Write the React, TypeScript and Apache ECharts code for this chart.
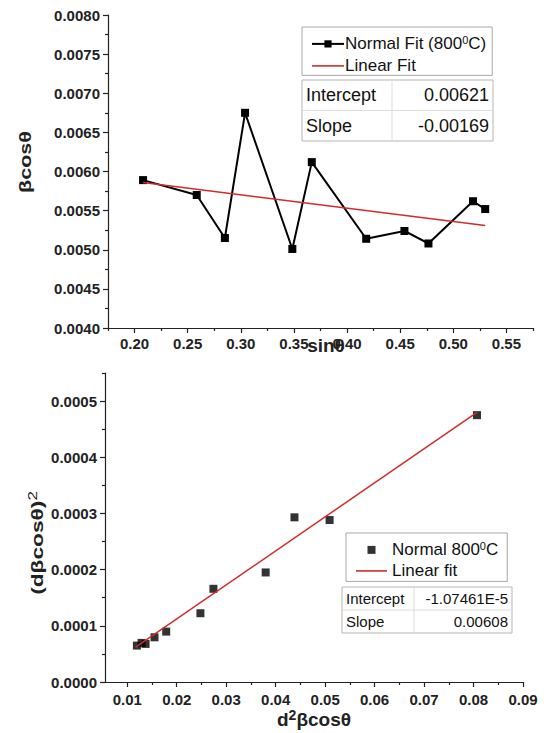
import React, { useEffect, useRef } from "react";
import * as echarts from "echarts";

// ---------- Top chart data (βcosθ vs sinθ) ----------
const topX = [0.208, 0.2585, 0.285, 0.304, 0.3485, 0.3668, 0.418, 0.454, 0.4766, 0.5185, 0.53];
const topY = [0.00589, 0.0057, 0.00515, 0.00675, 0.00501, 0.00612, 0.00514, 0.00524, 0.00508, 0.00562, 0.00552];
const topFitX = [0.208, 0.53];
const topFitY = [0.00586, 0.00531];
const topXMajor = [0.2, 0.25, 0.3, 0.35, 0.4, 0.45, 0.5, 0.55];
const topXMinor = [0.175, 0.225, 0.275, 0.325, 0.375, 0.425, 0.475, 0.525, 0.575];
const topYMajor = [0.004, 0.0045, 0.005, 0.0055, 0.006, 0.0065, 0.007, 0.0075, 0.008];
const topYMinor = [0.00425, 0.00475, 0.00525, 0.00575, 0.00625, 0.00675, 0.00725, 0.00775];
const topTable = [["Intercept", "0.00621"], ["Slope", "-0.00169"]];

// ---------- Bottom chart data ((dβcosθ)² vs d²βcosθ) ----------
const botX = [0.01195, 0.01289, 0.0137, 0.01551, 0.01787, 0.02479, 0.02742, 0.03798, 0.0438, 0.0509, 0.0807];
const botY = [0.0000648, 0.0000696, 0.0000678, 0.0000796, 0.0000897, 0.0001224, 0.0001659, 0.000195, 0.0002931, 0.0002883, 0.000475];
const botFitX = [0.0117, 0.0807];
const botFitY = [0.0000619, 0.00048];
const botXMajor = [0.01, 0.02, 0.03, 0.04, 0.05, 0.06, 0.07, 0.08, 0.09];
const botXMinor = [0.015, 0.025, 0.035, 0.045, 0.055, 0.065, 0.075, 0.085];
const botYMajor = [0, 0.0001, 0.0002, 0.0003, 0.0004, 0.0005];
const botYMinor = [0.00005, 0.00015, 0.00025, 0.00035, 0.00045, 0.00055];
const botTable = [["Intercept", "-1.07461E-5"], ["Slope", "0.00608"]];

const FONT = "Liberation Sans, Arial, sans-serif";
const AXIS_COLOR = "#222";
const RED = "#d12b2b";

const zip = (a: number[], b: number[]) => a.map((v, i) => [v, b[i]]);

function majorAxis(opts: any) {
  const { gridIndex, min, max, ticks, digits, margin, position, name, nameGap, nameTextStyle, nameMoveOverlap } = opts;
  return {
    type: "value",
    gridIndex,
    min,
    max,
    position,
    axisLine: { show: true, onZero: false, lineStyle: { color: AXIS_COLOR, width: 1.2 } },
    axisTick: { show: true, customValues: ticks, length: 5, lineStyle: { color: AXIS_COLOR, width: 1.2 } },
    axisLabel: {
      show: true,
      customValues: ticks,
      margin,
      formatter: (v: number) => v.toFixed(digits),
      color: AXIS_COLOR,
      fontFamily: FONT,
      fontWeight: "bold",
      fontSize: 15,
    },
    splitLine: { show: false },
    name,
    nameLocation: "middle",
    nameGap,
    nameMoveOverlap,
    nameTextStyle,
  };
}

function minorAxis(gridIndex: number, min: number, max: number, ticks: number[], position: string) {
  return {
    type: "value",
    gridIndex,
    min,
    max,
    position,
    axisLine: { show: false, onZero: false },
    axisTick: { show: true, customValues: ticks, length: 3, lineStyle: { color: AXIS_COLOR, width: 1.2 } },
    axisLabel: { show: false },
    splitLine: { show: false },
  };
}

function table(x: number, y: number, w: number, h: number, splitX: number, rows: string[][], fontSize: number) {
  const rowH = h / rows.length;
  const children: any[] = [
    { type: "rect", shape: { x, y, width: w, height: h }, style: { fill: "#fff", stroke: "#b5b5b5", lineWidth: 1 } },
    { type: "line", shape: { x1: splitX, y1: y, x2: splitX, y2: y + h }, style: { stroke: "#dcdcdc", lineWidth: 1 } },
    { type: "line", shape: { x1: x, y1: y + rowH, x2: x + w, y2: y + rowH }, style: { stroke: "#dcdcdc", lineWidth: 1 } },
  ];
  rows.forEach((r, i) => {
    const cy = y + rowH * i + rowH / 2;
    children.push({
      type: "text",
      style: { text: r[0], x: x + 4, y: cy, textVerticalAlign: "middle", textAlign: "left", font: `${fontSize}px ${FONT}`, fill: "#111" },
    });
    children.push({
      type: "text",
      style: { text: r[1], x: x + w - 4, y: cy, textVerticalAlign: "middle", textAlign: "right", font: `${fontSize}px ${FONT}`, fill: "#111" },
    });
  });
  return { type: "group", children };
}

const supRich = (size: number) => ({
  sup: { fontSize: size, fontFamily: FONT, verticalAlign: "bottom", padding: [0, 0, size * 0.8, 0], color: "#111" },
});

export default function App() {
  const ref = useRef<HTMLDivElement>(null);

  useEffect(() => {
    if (!ref.current) return;
    const chart = echarts.init(ref.current, undefined, { renderer: "svg" });

    const legendFormatter = (name: string) => name.replace("⁰", "{sup|0}");

    const option: any = {
      animation: false,
      backgroundColor: "#fff",
      grid: [
        { left: 108, top: 15, width: 425, height: 313 },
        { left: 105, top: 373, width: 418, height: 309 },
      ],
      xAxis: [
        majorAxis({
          gridIndex: 0, min: 0.175, max: 0.575, ticks: topXMajor, digits: 2, margin: 8, position: "bottom",
          name: "sinθ", nameGap: 8, nameMoveOverlap: false,
          nameTextStyle: { fontFamily: FONT, fontWeight: "bold", fontSize: 19, color: AXIS_COLOR, padding: [0, 0, 0, 11] },
        }),
        minorAxis(0, 0.175, 0.575, topXMinor, "bottom"),
        majorAxis({
          gridIndex: 1, min: 0.0055, max: 0.09, ticks: botXMajor, digits: 2, margin: 10, position: "bottom",
          name: "d{sup|2}βcosθ", nameGap: 26,
          nameTextStyle: { fontFamily: FONT, fontWeight: "bold", fontSize: 19, color: AXIS_COLOR, rich: { sup: { fontSize: 14, fontWeight: "bold", fontFamily: FONT, verticalAlign: "bottom", padding: [0, 0, 8, 0], color: AXIS_COLOR } } },
        }),
        minorAxis(1, 0.0055, 0.09, botXMinor, "bottom"),
      ],
      yAxis: [
        majorAxis({
          gridIndex: 0, min: 0.004, max: 0.008, ticks: topYMajor, digits: 4, margin: 8, position: "left",
        }),
        minorAxis(0, 0.004, 0.008, topYMinor, "left"),
        majorAxis({
          gridIndex: 1, min: 0, max: 0.00055, ticks: botYMajor, digits: 4, margin: 8, position: "left",
        }),
        minorAxis(1, 0, 0.00055, botYMinor, "left"),
      ],
      legend: [
        {
          orient: "vertical",
          left: 302,
          top: 27,
          padding: [7, 6, 1, 9],
          itemGap: 5,
          itemWidth: 32,
          itemHeight: 9,
          borderColor: "#a8a8a8",
          borderWidth: 1,
          backgroundColor: "#fff",
          selectedMode: false,
          formatter: legendFormatter,
          textStyle: { fontFamily: FONT, fontSize: 17, color: "#111", padding: [0, 0, 0, -4], rich: supRich(11) },
          data: [
            { name: "Normal Fit (800⁰C)" },
            { name: "Linear Fit", icon: "path://M0,0h32v1.6h-32z" },
          ],
        },
        {
          orient: "vertical",
          left: 346,
          top: 533,
          padding: [7, 9, 2, 10],
          itemGap: 4,
          itemWidth: 31,
          itemHeight: 8,
          borderColor: "#a8a8a8",
          borderWidth: 1,
          backgroundColor: "#fff",
          selectedMode: false,
          formatter: legendFormatter,
          textStyle: { fontFamily: FONT, fontSize: 17, color: "#111", rich: supRich(11) },
          data: [
            { name: "Normal 800⁰C", icon: "path://M0,0h8v8h-8z" },
            { name: "Linear fit", icon: "path://M0,0h31v1.6h-31z" },
          ],
        },
      ],
      series: [
        {
          name: "Normal Fit (800⁰C)",
          type: "line",
          xAxisIndex: 0,
          yAxisIndex: 0,
          data: zip(topX, topY),
          symbol: "rect",
          symbolSize: 8,
          lineStyle: { color: "#000", width: 2 },
          itemStyle: { color: "#000" },
          z: 3,
        },
        {
          name: "Linear Fit",
          type: "line",
          xAxisIndex: 0,
          yAxisIndex: 0,
          data: zip(topFitX, topFitY),
          symbol: "none",
          lineStyle: { color: RED, width: 1.5 },
          itemStyle: { color: RED },
          z: 4,
        },
        {
          name: "Normal 800⁰C",
          type: "scatter",
          xAxisIndex: 2,
          yAxisIndex: 2,
          data: zip(botX, botY),
          symbol: "rect",
          symbolSize: 8,
          itemStyle: { color: "#000" },
          z: 3,
        },
        {
          name: "Linear fit",
          type: "line",
          xAxisIndex: 2,
          yAxisIndex: 2,
          data: zip(botFitX, botFitY),
          symbol: "none",
          lineStyle: { color: RED, width: 1.5 },
          itemStyle: { color: RED },
          z: 4,
        },
      ],
      graphic: [
        table(302, 80, 191, 61, 392, topTable, 18),
        table(342, 587, 170, 46, 414, botTable, 15),
        {
          type: "text",
          x: 26,
          y: 162,
          rotation: Math.PI / 2,
          scaleX: 1.35,
          style: { text: "βcosθ", textAlign: "center", textVerticalAlign: "middle", font: `bold 16px ${FONT}`, fill: AXIS_COLOR },
        },
        {
          type: "text",
          x: 37,
          y: 543,
          rotation: Math.PI / 2,
          scaleX: 1.42,
          style: {
            text: "(dβcosθ){sup|2}",
            textAlign: "center",
            textVerticalAlign: "middle",
            font: `bold 16px ${FONT}`,
            fill: AXIS_COLOR,
            rich: { sup: { fontSize: 12, fontFamily: FONT, verticalAlign: "bottom", padding: [0, 0, 8, 0], fill: AXIS_COLOR } },
          },
        },
      ],
    };

    chart.setOption(option);
    return () => chart.dispose();
  }, []);

  return <div ref={ref} style={{ position: "absolute", left: 0, top: 0, width: 547, height: 733 }} />;
}
